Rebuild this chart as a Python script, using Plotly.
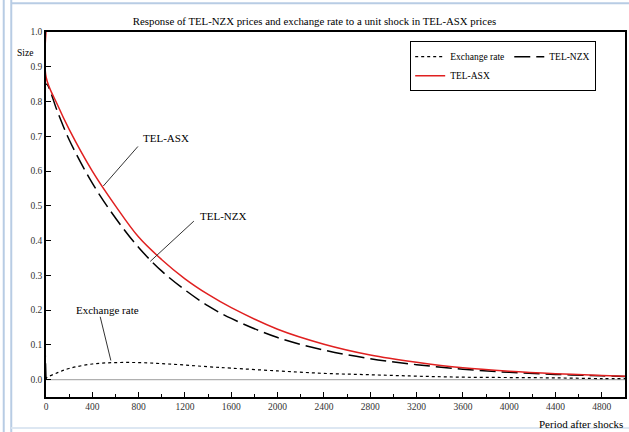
import plotly.graph_objects as go

# periods after the shock
periods = [0, 1, 100, 200, 400, 600, 800, 1000, 1200, 1400, 1600, 2000,
           2400, 2800, 3200, 3600, 4000, 4400, 4800, 5000]

# responses
tel_asx = [1.0, 0.87, 0.79, 0.72, 0.60, 0.50, 0.41, 0.345, 0.29, 0.245, 0.207,
           0.145, 0.102, 0.071, 0.050, 0.034, 0.024, 0.017, 0.012, 0.010]
tel_nzx = [0.0, 0.85, 0.77, 0.69, 0.565, 0.465, 0.38, 0.312, 0.258, 0.212, 0.176,
           0.121, 0.085, 0.060, 0.043, 0.030, 0.021, 0.015, 0.011, 0.009]
exch_rate = [0.0, 0.004, 0.02, 0.032, 0.045, 0.049, 0.049, 0.046, 0.042, 0.037,
             0.033, 0.025, 0.018, 0.014, 0.010, 0.007, 0.006, 0.005, 0.003, 0.003]

x_ticks = list(range(0, 5000, 400))
y_ticks = [i / 10 for i in range(11)]

FONT = "Liberation Serif"

fig = go.Figure()
# legend groups give two columns: (Exchange rate, TEL-ASX) | (TEL-NZX)
fig.add_trace(go.Scatter(x=periods, y=exch_rate, name="Exchange rate", mode="lines",
                         legendgroup="a", line=dict(color="black", width=1.2, dash="dot"),
                         line_shape="spline"))
fig.add_trace(go.Scatter(x=periods, y=tel_nzx, name="TEL-NZX", mode="lines",
                         legendgroup="b", line=dict(color="black", width=1.5, dash="16px,6px"),
                         line_shape="spline"))
fig.add_trace(go.Scatter(x=periods, y=tel_asx, name="TEL-ASX", mode="lines",
                         legendgroup="a", line=dict(color="#e02020", width=1.5),
                         line_shape="spline"))

# gray zero line
fig.add_hline(y=0, line=dict(color="#b0b0b0", width=1.2), layer="below")

# curve labels with leader lines
lbl_font = dict(family=FONT, size=11, color="black")
fig.add_annotation(x=495, y=0.557, ax=805, ay=0.675, xref="x", yref="y", axref="x", ayref="y",
                   text="", showarrow=True, arrowhead=0, arrowwidth=1, arrowcolor="#333")
fig.add_annotation(x=1040, y=0.695, xref="x", yref="y", text="TEL-ASX", showarrow=False,
                   font=lbl_font)
fig.add_annotation(x=900, y=0.34, ax=1290, ay=0.46, xref="x", yref="y", axref="x", ayref="y",
                   text="", showarrow=True, arrowhead=0, arrowwidth=1, arrowcolor="#333")
fig.add_annotation(x=1530, y=0.47, xref="x", yref="y", text="TEL-NZX", showarrow=False,
                   font=lbl_font)
fig.add_annotation(x=560, y=0.055, ax=465, ay=0.185, xref="x", yref="y", axref="x", ayref="y",
                   text="", showarrow=True, arrowhead=0, arrowwidth=1, arrowcolor="#333")
fig.add_annotation(x=530, y=0.2, xref="x", yref="y", text="Exchange rate", showarrow=False,
                   font=lbl_font)

# axis titles
fig.add_annotation(x=-0.036, y=0.942, xref="paper", yref="paper", text="Size", showarrow=False,
                   xanchor="center", yanchor="middle",
                   font=dict(family=FONT, size=9.5, color="black"))
fig.add_annotation(x=1.0, y=-0.052, xref="paper", yref="paper", text="Period after shocks",
                   showarrow=False, xanchor="right", yanchor="top",
                   font=dict(family=FONT, size=11, color="black"))

# window frame around the chart
frame = dict(color="#b8cce4", width=2)
fig.add_shape(type="line", xref="paper", yref="paper", x0=-0.073, x1=-0.073, y0=-0.12, y1=1.1, line=frame)
fig.add_shape(type="line", xref="paper", yref="paper", x0=-0.060, x1=-0.060, y0=-0.12, y1=1.1, line=frame)
fig.add_shape(type="line", xref="paper", yref="paper", x0=-0.060, x1=1.01, y0=1.079, y1=1.079, line=frame)
fig.add_shape(type="line", xref="paper", yref="paper", x0=-0.060, x1=1.01, y0=-0.085, y1=-0.085,
              line=dict(color="#dde7f2", width=2))

fig.update_layout(
    width=629, height=432,
    margin=dict(l=46, r=4, t=32, b=35, autoexpand=False),
    paper_bgcolor="white", plot_bgcolor="white",
    font=dict(family=FONT, size=10, color="black"),
    title=dict(text="Response of TEL-NZX prices and exchange rate to a unit shock in TEL-ASX prices",
               x=0.5, xanchor="center", y=0.95, yanchor="middle",
               font=dict(family=FONT, size=10.8, color="black")),
    showlegend=True,
    legend=dict(orientation="h", x=0.629, y=0.975, xanchor="left", yanchor="top",
                traceorder="grouped", tracegroupgap=0,
                bgcolor="white", bordercolor="black", borderwidth=1,
                font=dict(family=FONT, size=9.5), itemwidth=30),
)
fig.update_xaxes(range=[0, 5000], tickvals=x_ticks, ticks="inside", ticklen=5,
                 minor=dict(dtick=200, ticks="inside", ticklen=3, tickcolor="black"),
                 showgrid=False, zeroline=False, showline=True, linecolor="black",
                 linewidth=1.5, mirror=True, tickcolor="black",
                 tickfont=dict(size=9.5, color="#333"))
fig.update_yaxes(range=[-0.05, 1.0], tickvals=y_ticks, tickformat=".1f", ticks="inside",
                 ticklen=5, showgrid=False, zeroline=False, showline=True, linecolor="black",
                 linewidth=1.5, mirror=True, tickcolor="black",
                 tickfont=dict(size=9.5, color="#333"))

# drop the page's default body margin so the figure sits at the window corner
fig.write_html("out.html", config={"displayModeBar": False},
               post_script="document.body.style.margin='0';")
